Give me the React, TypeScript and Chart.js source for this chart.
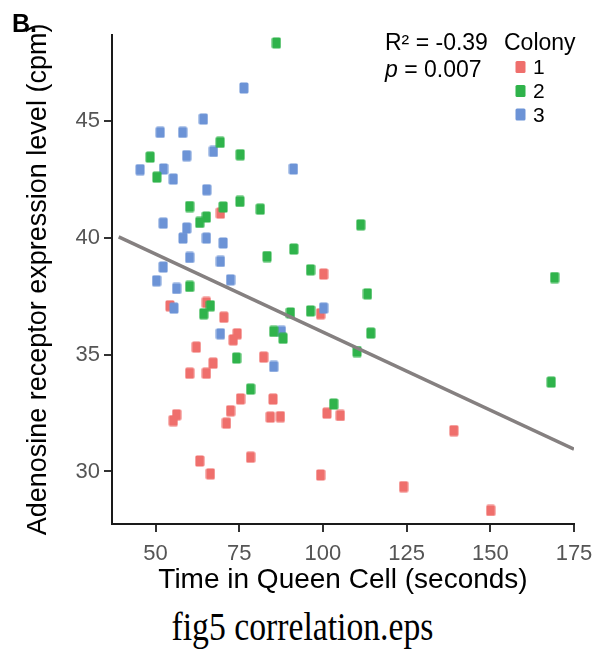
import React, { useEffect, useRef } from "react";
import { Chart, registerables } from "chart.js";

Chart.register(...registerables);

// ---------- data ----------
const colonyLabels = ["1", "2", "3"];
const colonyColors = ["#ef6f6c", "#2fb34b", "#6c93d6"];

const colony1X = [69.4, 54.3, 65.2, 70.4, 74.4, 73.2, 62.2, 82.3, 67.2, 60.2, 65.2, 75.4, 85.1, 72.4, 71.2, 56.3, 55.3, 84.3, 87.3, 101.2, 105.2, 63.2, 66.4, 78.4, 99.3, 100.2, 99.3, 139.1, 124.1, 150.1];
const colony1Y = [41.07, 37.1, 37.24, 36.61, 35.9, 35.64, 35.33, 34.9, 34.64, 34.21, 34.21, 33.11, 33.1, 32.6, 32.07, 32.43, 32.18, 32.33, 32.35, 32.5, 32.4, 30.45, 29.9, 30.61, 29.85, 38.46, 36.76, 31.75, 29.35, 28.33];

const colony2X = [86.1, 69.3, 48.4, 75.3, 50.4, 60.2, 70.2, 75.2, 81.3, 65.2, 63.2, 91.3, 83.3, 60.2, 66.4, 64.4, 90.3, 85.3, 88.1, 74.2, 78.4, 103.2, 111.3, 96.3, 169.2, 113.3, 96.3, 114.3, 110.2, 168.2];
const colony2Y = [48.36, 44.1, 43.47, 43.57, 42.61, 41.35, 41.33, 41.57, 41.24, 40.9, 40.67, 39.53, 39.21, 37.93, 37.1, 36.76, 36.79, 36.0, 35.71, 34.86, 33.53, 32.89, 40.57, 38.64, 38.31, 37.61, 36.88, 35.93, 35.14, 33.83];

const colony3X = [76.4, 64.3, 51.4, 58.1, 67.3, 59.3, 45.4, 52.4, 55.3, 91.2, 65.3, 52.3, 59.3, 58.2, 65.2, 70.2, 60.2, 69.4, 52.3, 50.3, 72.4, 56.3, 55.5, 69.4, 87.6, 85.3, 100.2];
const colony3Y = [46.43, 45.1, 44.53, 44.53, 43.71, 43.53, 42.93, 42.96, 42.53, 42.96, 42.07, 40.64, 40.43, 40.0, 40.0, 39.79, 39.17, 39.0, 38.76, 38.17, 38.21, 37.84, 37.0, 35.9, 36.0, 34.5, 37.0];

const fitX = [39, 175];
const fitY = [40.05, 30.96];

const xTicks = [50, 75, 100, 125, 150, 175];
const yTicks = [30, 35, 40, 45];

const xTitle = "Time in Queen Cell (seconds)";
const yTitle = "Adenosine receptor expression level (cpm)";
const panelLabel = "B.";
const statR = "R² = -0.39";
const statP = " = 0.007";
const legendTitle = "Colony";
const caption = "fig5 correlation.eps";

const SANS = '"Liberation Sans", Arial, Helvetica, sans-serif';

function makeMarker(color: string): HTMLCanvasElement {
  const c = document.createElement("canvas");
  c.width = 10;
  c.height = 12;
  const ctx = c.getContext("2d")!;
  ctx.fillStyle = color;
  ctx.beginPath();
  (ctx as any).roundRect(0.5, 0.5, 9, 11, 1.5);
  ctx.fill();
  return c;
}

const overlayPlugin = {
  id: "overlayText",
  afterDraw(chart: any) {
    const ctx = chart.ctx as CanvasRenderingContext2D;
    ctx.save();
    ctx.textBaseline = "alphabetic";
    ctx.textAlign = "left";
    ctx.fillStyle = "#000";
    ctx.font = `bold 25px ${SANS}`;
    ctx.fillText(panelLabel, 12, 32);

    ctx.font = `23px ${SANS}`;
    ctx.fillText(statR, 385, 50);
    ctx.font = `italic 23px ${SANS}`;
    ctx.fillText("p", 385, 77);
    const pw = ctx.measureText("p").width;
    ctx.font = `23px ${SANS}`;
    ctx.fillText(statP, 385 + pw, 77);

    ctx.fillText(legendTitle, 504, 50);
    const baselines = [74, 98, 121.5];
    ctx.font = `21px ${SANS}`;
    colonyLabels.forEach((lab, i) => {
      const ds = chart.data.datasets.find((d: any) => d.label === lab);
      ctx.fillStyle = ds ? ds.borderColor : colonyColors[i];
      ctx.beginPath();
      (ctx as any).roundRect(515.5, baselines[i] - 13, 10, 12, 1.5);
      ctx.fill();
      ctx.fillStyle = "#000";
      ctx.fillText(lab, 533, baselines[i]);
    });
    ctx.restore();
  },
};

export default function App() {
  const ref = useRef<HTMLCanvasElement>(null);

  useEffect(() => {
    if (!ref.current) return;
    const toPts = (xs: number[], ys: number[]) => xs.map((x, i) => ({ x, y: ys[i] }));
    const colonyData = [
      toPts(colony1X, colony1Y),
      toPts(colony2X, colony2Y),
      toPts(colony3X, colony3Y),
    ];
    const orders = [3, 1, 2];
    const chart = new Chart(ref.current, {
      type: "scatter",
      data: {
        datasets: [
          {
            type: "line",
            label: "fit",
            data: toPts(fitX, fitY),
            borderColor: "#858080",
            borderWidth: 3.5,
            pointRadius: 0,
            order: 0,
          } as any,
          ...colonyLabels.map((lab, i) => ({
            label: lab,
            data: colonyData[i],
            borderColor: colonyColors[i],
            backgroundColor: colonyColors[i],
            pointStyle: makeMarker(colonyColors[i]),
            pointRadius: 6,
            order: orders[i],
          })),
        ],
      },
      options: {
        responsive: false,
        animation: false,
        layout: { padding: { top: 35, right: 23, left: 0, bottom: 0 } },
        plugins: {
          legend: { display: false },
          tooltip: { enabled: false },
        },
        scales: {
          x: {
            type: "linear",
            min: 37,
            max: 175,
            afterBuildTicks: (s: any) => {
              s.ticks = xTicks.map((v) => ({ value: v }));
            },
            afterFit: (s: any) => {
              s.height = 76;
              s.paddingLeft = 0;
              s.paddingRight = 0;
            },
            grid: { drawOnChartArea: false, drawTicks: true, tickLength: 8, color: "#333", lineWidth: 2 },
            border: { display: true, color: "#1a1a1a", width: 2 },
            ticks: {
              color: "#555",
              font: { size: 22, family: SANS },
              padding: 9,
              maxRotation: 0,
              autoSkip: false,
            },
            title: {
              display: true,
              text: xTitle,
              color: "#000",
              font: { size: 28, family: SANS },
              padding: { top: 0, bottom: 3 },
            },
          },
          y: {
            type: "linear",
            min: 27.75,
            max: 48.7,
            afterBuildTicks: (s: any) => {
              s.ticks = yTicks.map((v) => ({ value: v }));
            },
            afterFit: (s: any) => {
              s.width = 112;
              s.paddingTop = 0;
              s.paddingBottom = 0;
            },
            grid: { drawOnChartArea: false, drawTicks: true, tickLength: 8, color: "#333", lineWidth: 2 },
            border: { display: true, color: "#1a1a1a", width: 2 },
            ticks: {
              color: "#555",
              font: { size: 22, family: SANS },
              padding: 4,
              autoSkip: false,
            },
            title: {
              display: true,
              text: yTitle,
              color: "#000",
              font: { size: 27, family: SANS },
              padding: { top: 22, bottom: 0 },
            },
          },
        },
      } as any,
      plugins: [overlayPlugin],
    });
    return () => chart.destroy();
  }, []);

  return (
    <div style={{ position: "absolute", left: 0, top: 0, width: 597, height: 649, background: "#fff", overflow: "hidden" }}>
      <canvas ref={ref} width={597} height={600} style={{ display: "block", width: 597, height: 600 }} />
      <div
        style={{
          position: "absolute",
          left: 4,
          top: 611.6,
          width: 597,
          height: 34,
          textAlign: "center",
          fontFamily: '"Liberation Serif", "Times New Roman", serif',
          fontSize: 33.7,
          lineHeight: "34px",
          color: "#000",
          whiteSpace: "nowrap",
          transformOrigin: "50% 28.4px",
          transform: "scaleY(1.2)",
        }}
      >
        {caption}
      </div>
    </div>
  );
}
